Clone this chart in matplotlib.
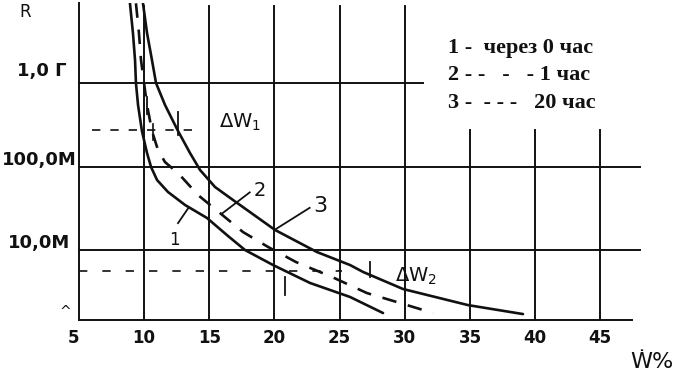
import matplotlib
matplotlib.use("Agg")
import matplotlib.pyplot as plt

# ---------------- data ----------------
# moisture W, %  and resistance R, Ohm
w_curve1 = [8.91, 9.14, 9.30, 9.37, 9.53, 9.83, 10.22, 10.53, 10.99, 11.83, 13.14,
            14.82, 16.44, 17.74, 19.89, 22.73, 25.80, 28.33]
r_curve1 = [9.0e9, 3.97e9, 1.88e9, 1.0e9, 5.46e8, 2.66e8, 1.45e8, 9.86e7, 6.89e7, 4.95e7, 3.46e7,
            2.42e7, 1.47e7, 1.0e7, 6.61e6, 4.03e6, 2.74e6, 1.76e6]

w_curve2 = [9.37, 9.60, 9.76, 9.99, 10.22, 10.60, 11.06, 11.60, 12.67, 14.13, 15.82,
            17.59, 19.50, 21.65, 24.42, 27.10, 29.64, 32.17]
r_curve2 = [9.0e9, 3.97e9, 1.88e9, 1.0e9, 5.46e8, 2.66e8, 1.58e8, 1.13e8, 8.13e7, 4.56e7, 2.77e7,
            1.64e7, 1.09e7, 7.18e6, 4.75e6, 3.05e6, 2.32e6, 1.76e6]

w_curve3 = [9.91, 10.22, 10.60, 10.91, 11.60, 12.60, 13.52, 14.29, 15.44, 16.82, 20.04,
            23.26, 25.80, 26.80, 29.87, 34.85, 39.07]
r_curve3 = [9.0e9, 3.97e9, 1.88e9, 1.0e9, 5.46e8, 2.66e8, 1.45e8, 9.08e7, 5.68e7, 3.97e7, 1.74e7,
            9.46e6, 6.61e6, 5.46e6, 3.41e6, 2.19e6, 1.71e6]

x_ticks = [5, 10, 15, 20, 25, 30, 35, 40, 45]
x_tick_labels = ["5", "10", "15", "20", "25", "30", "35", "40", "45"]
y_ticks = [1e9, 1e8, 1e7]
y_tick_labels = ["1,0 Г", "100,0M", "10,0M"]

legend_lines = ["1 -  через 0 час", "2 - -   -   - 1 час", "3 -  - - -   20 час"]

# ΔW reference levels
dw1_level = 2.7e8
dw2_level = 5.6e6

# ---------------- figure ----------------
fig = plt.figure(figsize=(6.77, 3.82), dpi=100)
ax = fig.add_axes([0.11669, 0.16230, 0.82866, 0.82984])
ax.set_yscale("log")
xmin, xmax = 5, 48.05
ymin, ymax = 1.452e6, 9.08e9
ax.set_xlim(xmin, xmax)
ax.set_ylim(ymin, ymax)
for s in ax.spines.values():
    s.set_visible(False)
ax.set_xticks([])
ax.set_yticks([])
ax.minorticks_off()

ink = "#111111"
glw = 1.4

# grid / frame
ax.plot([xmin, xmin], [ymin, ymax], color=ink, lw=glw, clip_on=False)
ax.plot([xmin, 47.4], [ymin, ymin], color=ink, lw=glw, clip_on=False)
for x in [10, 15, 20, 25, 30]:
    ax.plot([x, x], [ymin, ymax * 0.92], color=ink, lw=glw, clip_on=False)
for x in [35, 40, 45]:
    ax.plot([x, x], [ymin, 2.75e8], color=ink, lw=glw, clip_on=False)
ax.plot([xmin, 31.4], [1e9, 1e9], color=ink, lw=glw, clip_on=False)
for y in [1e8, 1e7]:
    ax.plot([xmin, xmax], [y, y], color=ink, lw=glw, clip_on=False)

# curves
clw = 1.9
ax.plot(w_curve1, r_curve1, color=ink, lw=clw, solid_capstyle="round", solid_joinstyle="round")
ax.plot(w_curve3, r_curve3, color=ink, lw=clw, solid_capstyle="round", solid_joinstyle="round")
ax.plot(w_curve2, r_curve2, color=ink, lw=clw, dashes=(5.5, 4.5))

# ΔW reference dashed lines and markers
ax.plot([6.0, 13.75], [dw1_level, dw1_level], color=ink, lw=1.2, dashes=(5, 6))
ax.plot([xmin, 25.2], [dw2_level, dw2_level], color=ink, lw=1.2, dashes=(5, 9))
ax.plot([10.68, 10.68], [3.2e8, 2.1e8], color=ink, lw=1.2)
ax.plot([12.6, 12.6], [4.5e8, 2.4e8], color=ink, lw=1.3)
ax.plot([10.22, 10.22], [6.8e8, 4.2e8], color=ink, lw=1.3)
ax.plot([20.8, 20.8], [4.8e6, 2.9e6], color=ink, lw=1.3)
ax.plot([27.3, 27.3], [7.2e6, 4.8e6], color=ink, lw=1.3)

hand = dict(color=ink, family="DejaVu Sans")
ax.text(17.4, 3.4e8, r"$\mathregular{\Delta W_1}$", fontsize=14, ha="center", va="center", **hand)
ax.text(30.9, 4.8e6, r"$\mathregular{\Delta W_2}$", fontsize=14, ha="center", va="center", **hand)

# curve labels with leaders
ax.plot([12.6, 13.4], [2.1e7, 3.2e7], color=ink, lw=1.3)
ax.text(12.3, 1.32e7, "1", fontsize=12, ha="center", va="center", **hand)
ax.plot([16.0, 18.1], [2.75e7, 4.9e7], color=ink, lw=1.3)
ax.text(18.9, 5.2e7, "2", fontsize=14, ha="center", va="center", **hand)
ax.plot([20.0, 22.7], [1.74e7, 3.2e7], color=ink, lw=1.3)
ax.text(23.5, 3.4e7, "3", fontsize=16, ha="center", va="center", **hand)

# tick labels
tick_font = dict(color=ink, family="DejaVu Sans", fontweight="bold", fontsize=12)
for x, lab in zip(x_ticks, x_tick_labels):
    dx = -4 if x == 5 else 0
    ax.annotate(lab, xy=(x, ymin), xycoords="data", xytext=(dx, -13),
                textcoords="offset points", ha="center", va="center",
                annotation_clip=False, **tick_font)
y_offsets = [(-9, 8.5), (-1.5, 4.5), (-6.5, 5)]
for y, lab, (dx, dy) in zip(y_ticks, y_tick_labels, y_offsets):
    ax.annotate(lab, xy=(xmin, y), xycoords="data", xytext=(dx, dy),
                textcoords="offset points", ha="right", va="center",
                annotation_clip=False, color=ink, family="DejaVu Sans",
                fontweight="bold", fontsize=13)

fig.text(25 / 677, 1 - 12 / 382, "R", fontsize=12, ha="center", va="center",
         color=ink, family="DejaVu Sans")
fig.text(65 / 677, 1 - 312 / 382, "^", fontsize=10, ha="center", va="center",
         color=ink, family="DejaVu Sans")
fig.text(652 / 677, 1 - 362 / 382, "Ẇ%", fontsize=16, ha="center", va="center",
         color=ink, family="DejaVu Sans")

# legend text
for i, line in enumerate(legend_lines):
    fig.text(448 / 677, 1 - (48 + 27.5 * i) / 382, line, fontsize=16,
             fontweight="bold", family="Liberation Serif", ha="left",
             va="center", color=ink)

fig.savefig("out.png", dpi=100)
